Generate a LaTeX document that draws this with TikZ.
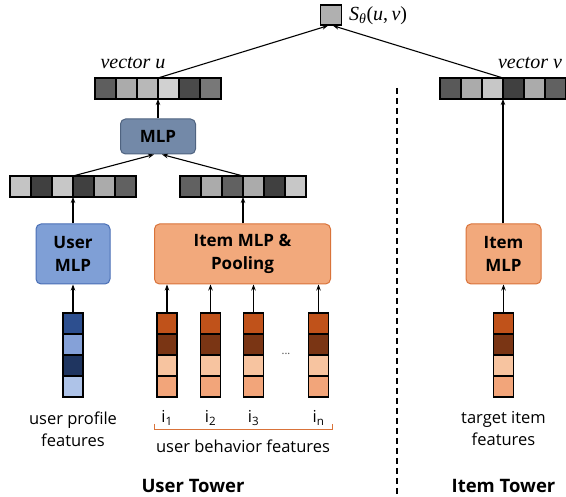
\documentclass[tikz,border=0pt]{standalone}
\usepackage{fontspec}
\setmainfont{Open Sans}
\setsansfont{Open Sans}
\newfontfamily\serifr{Liberation Serif}
\usetikzlibrary{arrows.meta}
\definecolor{umlpfill}{HTML}{7F9FD6}
\definecolor{umlpdraw}{HTML}{4A6FB5}
\definecolor{mlpfill}{HTML}{7389A8}
\definecolor{mlpdraw}{HTML}{4F6380}
\definecolor{imfill}{HTML}{F2A97C}
\definecolor{imdraw}{HTML}{D9733A}
\definecolor{bA}{HTML}{2D4F8F}
\definecolor{bB}{HTML}{85A1D8}
\definecolor{bC}{HTML}{1F3560}
\definecolor{bD}{HTML}{AEC3E8}
\definecolor{oA}{HTML}{C0521A}
\definecolor{oB}{HTML}{7A3514}
\definecolor{oC}{HTML}{F7C4A0}
\definecolor{oD}{HTML}{F2A57A}
\tikzset{
  cell/.style={draw=black, line width=1.4pt, minimum width=21pt, minimum height=21pt, inner sep=0pt, outer sep=0pt},
  vcell/.style={draw=black, line width=1.4pt, minimum width=20pt, minimum height=21pt, inner sep=0pt, outer sep=0pt},
  arr/.style={line width=1.1pt, -{Stealth[length=6pt,width=4.5pt]}},
  box/.style={rounded corners=5pt, line width=1pt, inner sep=0pt, align=center, font=\fontsize{17}{23}\selectfont\bfseries},
  lbl/.style={font=\fontsize{16.5}{22}\selectfont, align=center, inner sep=0pt},
  mathlbl/.style={font=\fontsize{20}{22}\selectfont\serifr, inner sep=0pt},
  tower/.style={font=\fontsize{18.5}{20}\selectfont\bfseries, inner sep=0pt}
}
\begin{document}
\begin{tikzpicture}[x=1pt,y=-1pt]
\useasboundingbox (0,0) rectangle (566,497);
% top score
\node[draw=black, line width=1.4pt, fill=black!31, minimum width=21pt, minimum height=20pt, inner sep=0pt] (S) at (331,15) {};
\node[mathlbl, anchor=west] (Slbl) at (349,16) {\textit{S}\textsubscript{\textit{θ}}(\textit{u},\,\textit{v})};
% vector u
\foreach \c [count=\i] in {63,33,28,18,71,53}
  \node[cell, fill=black!\c] (u\i) at ({95+10.5+21*(\i-1)},88.5) {};
\node[mathlbl] (ulbl) at (133,63) {\textit{vector u}};
% vector v
\foreach \c [count=\i] in {65,33,22,75,33,62}
  \node[cell, fill=black!\c] (v\i) at ({440+10.5+21*(\i-1)},88.5) {};
\node[mathlbl] (vlbl) at (530,63) {\textit{vector v}};
% MLP
\node[box, fill=mlpfill, draw=mlpdraw, minimum width=75pt, minimum height=35pt] (MLP) at (158,136.5) {MLP};
% left bar / right bar
\foreach \c [count=\i] in {23,75,22,75,33,62}
  \node[cell, fill=black!\c] (l\i) at ({10+10.5+21*(\i-1)},186.5) {};
\foreach \c [count=\i] in {62,33,62,33,75,22}
  \node[cell, fill=black!\c] (r\i) at ({180+10.5+21*(\i-1)},186.5) {};
% boxes
\node[box, fill=umlpfill, draw=umlpdraw, minimum width=74pt, minimum height=60pt] (UM) at (73,254) {User\\MLP};
\node[box, fill=imfill, draw=imdraw, minimum width=176pt, minimum height=60pt] (IMP) at (242.5,254) {Item MLP \&\\Pooling};
\node[box, fill=imfill, draw=imdraw, minimum width=75pt, minimum height=60pt] (IM) at (503.5,254) {Item\\MLP};
% feature columns
\foreach \c [count=\j] in {bA,bB,bC,bD}
  \node[vcell, fill=\c] (p\j) at (73,{313+10.5+21*(\j-1)}) {};
\foreach \x [count=\i] in {167,210.5,253.5,318.5}
  \foreach \c [count=\j] in {oA,oB,oC,oD}
    \node[vcell, fill=\c] (b\i c\j) at (\x,{313+10.5+21*(\j-1)}) {};
\foreach \c [count=\j] in {oA,oB,oC,oD}
  \node[vcell, fill=\c] (t\j) at (503.5,{313+10.5+21*(\j-1)}) {};
\node[font=\fontsize{11}{12}\selectfont, text=black!70, inner sep=0pt] (dots) at (286,354) {...};
% labels
\node[lbl] (i1) at (167,418) {i\textsubscript{1}};
\node[lbl] (i2) at (210.5,418) {i\textsubscript{2}};
\node[lbl] (i3) at (253.5,418) {i\textsubscript{3}};
\node[lbl] (in) at (318.5,418) {i\textsubscript{n}};
\draw[imdraw, line width=1pt] (154,424) -- (154,430) -- (332,430) -- (332,424);
\node[lbl] (ubf) at (243,446) {user behavior features};
\node[lbl] (upf) at (73,429) {user profile\\features};
\node[lbl] (tif) at (503.5,429) {target item\\features};
\node[tower] (ut) at (193,486) {User Tower};
\node[tower] (it) at (503.5,486) {Item Tower};
% dashed divider
\coordinate (dtop) at (397,88);
\coordinate (dbot) at (397,497);
\draw[line width=1.2pt, dash pattern=on 6pt off 4pt] (dtop) -- (dbot);
% connectors
\draw[arr] (u3.north east) -- ([xshift=-3pt]S.south);
\draw[arr] (v3.north east) -- ([xshift=2pt]S.south);
\draw[arr] (MLP.north) -- (u3.south east);
\draw[arr] (v3.south east |- IM.north) -- (v3.south east);
\draw[arr] (l4.north west) -- ([xshift=-4pt]MLP.south);
\draw[arr] (r4.north west) -- ([xshift=4pt]MLP.south);
\draw[arr] (UM.north) -- (l4.south west);
\draw[arr] (r4.south west |- IMP.north) -- (r4.south west);
\draw[arr] (p1.north) -- (UM.south);
\foreach \i in {1,2,3,4}
  \draw[arr] (b\i c1.north) -- (b\i c1.north |- IMP.south);
\draw[arr] (t1.north) -- (IM.south);
\end{tikzpicture}
\end{document}
